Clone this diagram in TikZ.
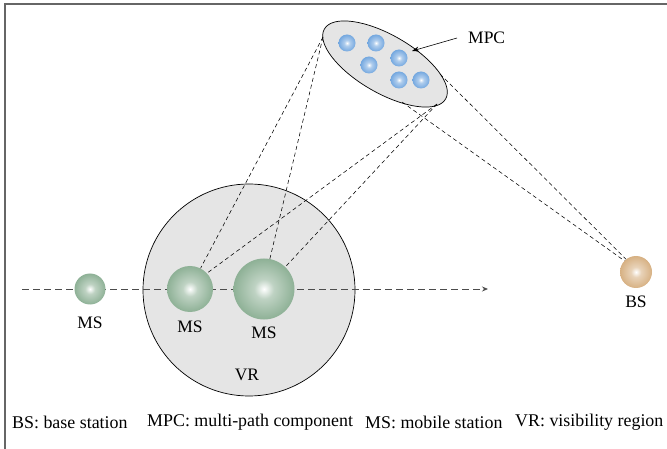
\documentclass[tikz,border=0pt]{standalone}
\usepackage{fontspec}
\setmainfont{Liberation Serif}
\usetikzlibrary{shapes.geometric,arrows.meta}

% radial ball shadings: white centre fading out to the body colour
\definecolor{msgreen}{RGB}{112,156,122}
\definecolor{bstan}{RGB}{204,156,98}
\definecolor{mpcblue}{RGB}{80,145,215}
\pgfdeclareradialshading{greenball}{\pgfpoint{0bp}{0bp}}{%
  color(0bp)=(white); color(8bp)=(msgreen!45!white); color(28bp)=(msgreen!85!white); color(50bp)=(msgreen)}
\pgfdeclareradialshading{tanball}{\pgfpoint{0bp}{0bp}}{%
  color(0bp)=(white); color(8bp)=(bstan!45!white); color(28bp)=(bstan!85!white); color(50bp)=(bstan)}
\pgfdeclareradialshading{blueball}{\pgfpoint{0bp}{0bp}}{%
  color(0bp)=(white); color(8bp)=(mpcblue!45!white); color(28bp)=(mpcblue!85!white); color(50bp)=(mpcblue)}

\tikzset{
  region/.style={draw=black, line width=0.7pt, fill=black!10!white},
  msball/.style={circle, inner sep=0pt, shading=greenball},
  bsball/.style={circle, inner sep=0pt, shading=tanball},
  scatterer/.style={circle, inner sep=0pt, minimum size=17pt, shading=blueball},
  ray/.style={draw=black, line width=0.55pt, dash pattern=on 4pt off 3pt},
  track/.style={draw=black!70, line width=0.8pt, dash pattern=on 7pt off 4pt,
    -{Stealth[length=6pt,width=5pt]}},
  lbl/.style={font=\fontsize{17.5}{17.5}\selectfont, inner sep=0pt},
  legend/.style={font=\fontsize{17.9}{17.9}\selectfont, inner sep=0pt, anchor=west},
}

\begin{document}
\begin{tikzpicture}[x=1pt, y=-1pt]
  \useasboundingbox (0,0) rectangle (667,449);

  % frame: top and left rules only
  \draw[black!60, line width=1.4pt] (667,4) -- (5,4) -- (5,449);

  % visibility region
  \node (vr) [region, circle, minimum size=212pt, inner sep=0pt] at (249,290) {};

  % cluster of multi-path components
  \node (mpc) [region, ellipse, minimum width=140pt, minimum height=58pt,
               inner sep=0pt, rotate=-30] at (385,64) {};
  \node (s1) [scatterer] at (347,43) {};
  \node (s2) [scatterer] at (376,43) {};
  \node (s3) [scatterer] at (399,58) {};
  \node (s4) [scatterer] at (369,65) {};
  \node (s5) [scatterer] at (399,80) {};
  \node (s6) [scatterer] at (421,80) {};

  % trajectory of the mobile station
  \coordinate (tstart) at (22,289);
  \coordinate (tend) at (488,289);
  \draw[track] (tstart) -- (tend);

  % mobile station positions and base station
  \node (ms1) [msball, minimum size=31pt] at (90,289) {};
  \node (ms2) [msball, minimum size=46pt] at (190,289) {};
  \node (ms3) [msball, minimum size=61pt] at (264,289) {};
  \node (bs)  [bsball, minimum size=32pt] at (636,272) {};

  % contact points on the cluster outline
  \coordinate (eL) at (323,37);
  \coordinate (eB) at (437,104);
  \coordinate (eR) at (440,74);
  \coordinate (eD) at (402,102);

  % propagation paths
  \draw[ray] (eL) -- (ms2.63);
  \draw[ray] (eL) -- (ms3.79);
  \draw[ray] (eB) -- (ms2.43);
  \draw[ray] (eB) -- (ms3.46);
  \draw[ray] (eR) -- (bs.128);
  \draw[ray] (eD) -- (bs.136);

  % labels
  \node (mpclbl) [lbl, anchor=west] at (468,38) {MPC};
  \coordinate (mpcarrow) at (457,38);
  \coordinate (mpctip) at (412,51);
  \draw[black, line width=0.6pt, -{Stealth[length=7pt,width=5pt]}] (mpcarrow) -- (mpctip);

  \node (ms1lbl) [lbl] at (90,323) {MS};
  \node (ms2lbl) [lbl] at (190,327) {MS};
  \node (ms3lbl) [lbl] at (264,333) {MS};
  \node (vrlbl)  [lbl] at (247,375) {VR};
  \node (bslbl)  [lbl] at (636,302) {BS};

  % legend
  \node (leg1) [legend] at (12,422) {BS: base station};
  \node (leg2) [legend] at (147,422) {MPC: multi-path component};
  \node (leg3) [legend] at (365,422) {MS: mobile station};
  \node (leg4) [legend] at (515,422) {VR: visibility region};
\end{tikzpicture}
\end{document}
